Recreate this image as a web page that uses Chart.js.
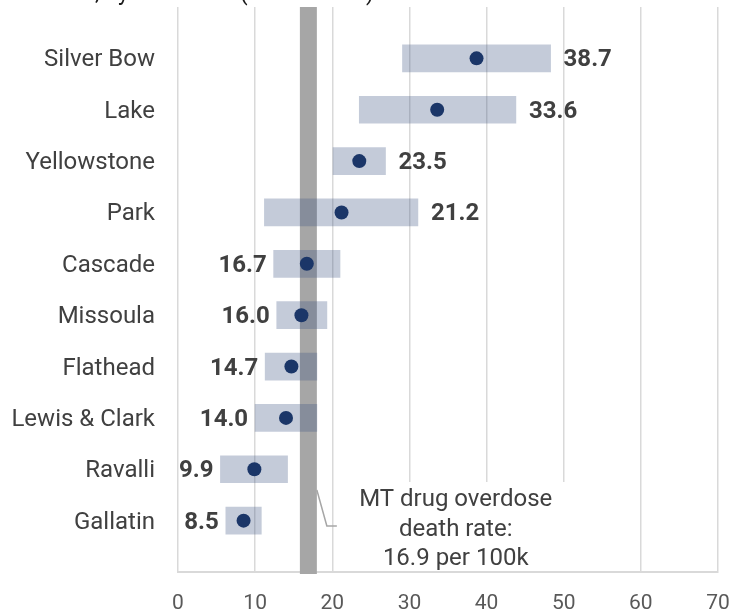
<!DOCTYPE html>
<html>
<head>
<meta charset="utf-8">
<script src="https://cdn.jsdelivr.net/npm/chart.js@4"></script>
<style>
  html, body { margin: 0; padding: 0; background: #fff; }
  #contenedor { width: 730px; height: 616px; }
</style>
</head>
<body>
<div id="contenedor"><canvas id="graficoCondados"></canvas></div>
<script>
// Datos por condado (tasa por 100k y su intervalo)
const condados = ['Silver Bow', 'Lake', 'Yellowstone', 'Park', 'Cascade', 'Missoula', 'Flathead', 'Lewis & Clark', 'Ravalli', 'Gallatin'];
const tasas = [38.7, 33.6, 23.5, 21.2, 16.7, 16.0, 14.7, 14.0, 9.9, 8.5];
const limiteInferior = [29.1, 23.5, 20.1, 11.2, 12.4, 12.8, 11.3, 10.0, 5.5, 6.2];
const limiteSuperior = [48.3, 43.8, 26.9, 31.1, 21.0, 19.3, 18.0, 18.0, 14.2, 10.8];

// Tasa estatal y su banda
const tasaEstatal = 16.9;
const bandaEstatal = [15.8, 18.0];
const notaEstatal = ['MT drug overdose', 'death rate:', '16.9 per 100k'];

// Eje X
const ticksX = [0, 10, 20, 30, 40, 50, 60, 70];
const tituloCortado = 'Drug overdose death rates, by residence (2018\u20132022)';

const fuente = 'Roboto';
const grisTexto = '#404040';

// Etiquetas vacías arriba y abajo para dejar espacio entre filas
const etiquetas = ['', ...condados, ''];
const rangos = [null, ...condados.map((c, i) => [limiteInferior[i], limiteSuperior[i]]), null];
const puntos = [null, ...tasas, null];

// Banda gris de la tasa estatal (debajo de las barras)
const pluginBanda = {
  id: 'bandaEstatal',
  beforeDatasetsDraw(chart) {
    const { ctx, chartArea, scales } = chart;
    const x1 = scales.x.getPixelForValue(bandaEstatal[0]);
    const x2 = scales.x.getPixelForValue(bandaEstatal[1]);
    ctx.save();
    ctx.fillStyle = '#a6a6a6';
    ctx.fillRect(x1, chartArea.top, x2 - x1, chartArea.bottom - chartArea.top + 2);
    ctx.restore();
  }
};

// Valores en negrita junto a cada barra
const pluginValores = {
  id: 'valores',
  afterDatasetsDraw(chart) {
    const { ctx, scales } = chart;
    ctx.save();
    ctx.font = 'bold 24px ' + fuente;
    ctx.fillStyle = grisTexto;
    ctx.textBaseline = 'middle';
    tasas.forEach((t, i) => {
      const y = scales.y.getPixelForValue(i + 1);
      if (t > tasaEstatal) {
        ctx.textAlign = 'left';
        ctx.fillText(t.toFixed(1), scales.x.getPixelForValue(limiteSuperior[i]) + 13, y + 2);
      } else {
        ctx.textAlign = 'right';
        ctx.fillText(t.toFixed(1), scales.x.getPixelForValue(limiteInferior[i]) - 7, y + 2);
      }
    });
    ctx.restore();
  }
};

// Nota de la tasa estatal con su línea guía, y el título cortado arriba
const pluginNota = {
  id: 'nota',
  afterDraw(chart) {
    const { ctx, chartArea, scales } = chart;
    const xBanda = scales.x.getPixelForValue(bandaEstatal[1]);
    const xNota = scales.x.getPixelForValue(36);
    ctx.save();
    ctx.fillStyle = '#fff';
    ctx.fillRect(xBanda + 20, chartArea.bottom - 90, 238, 89);

    ctx.strokeStyle = '#a6a6a6';
    ctx.lineWidth = 1.5;
    ctx.beginPath();
    ctx.moveTo(xBanda, chartArea.bottom - 82);
    ctx.lineTo(xBanda + 10, chartArea.bottom - 46);
    ctx.lineTo(xBanda + 20, chartArea.bottom - 46);
    ctx.stroke();

    ctx.font = '24px ' + fuente;
    ctx.fillStyle = grisTexto;
    ctx.textAlign = 'center';
    ctx.textBaseline = 'middle';
    notaEstatal.forEach((linea, k) => {
      ctx.fillText(linea, xNota, chartArea.bottom - 72 + k * 29.5);
    });

    // título: solo asoman los trazos inferiores
    ctx.font = '23px ' + fuente;
    ctx.fillStyle = '#1a1a1a';
    ctx.textAlign = 'left';
    ctx.textBaseline = 'alphabetic';
    const prefijo = tituloCortado.slice(0, tituloCortado.indexOf(','));
    ctx.fillText(tituloCortado, 95 - ctx.measureText(prefijo).width, 0);
    ctx.restore();
  }
};

const ctx = document.getElementById('graficoCondados').getContext('2d');
const grafico = new Chart(ctx, {
  type: 'bar',
  data: {
    labels: etiquetas,
    datasets: [
      {
        type: 'line',
        label: 'Tasa',
        data: puntos,
        showLine: false,
        pointRadius: 7,
        pointHoverRadius: 7,
        pointBackgroundColor: '#1b3668',
        pointBorderColor: '#1b3668',
        pointBorderWidth: 0,
        order: 1
      },
      {
        label: 'Intervalo',
        data: rangos,
        backgroundColor: 'rgba(60, 82, 128, 0.3)',
        borderWidth: 0,
        barThickness: 27,
        borderSkipped: false,
        order: 2
      }
    ]
  },
  options: {
    indexAxis: 'y',
    responsive: true,
    maintainAspectRatio: false,
    animation: false,
    layout: { padding: { top: 7, right: 12, left: 0, bottom: 0 } },
    plugins: {
      legend: { display: false },
      tooltip: { enabled: false },
      title: { display: false }
    },
    scales: {
      x: {
        type: 'linear',
        min: ticksX[0],
        max: ticksX[ticksX.length - 1],
        afterBuildTicks: (escala) => { escala.ticks = ticksX.map(v => ({ value: v })); },
        afterFit: (escala) => {
          escala.height = 44;
          escala.paddingLeft = 0;
          escala.paddingRight = 0;
        },
        grid: { color: '#d9d9d9', lineWidth: 1.5, drawTicks: false },
        border: { color: '#d9d9d9', width: 2 },
        ticks: { color: '#595959', font: { family: fuente, size: 21 }, padding: 19 }
      },
      y: {
        type: 'category',
        offset: false,
        afterFit: (escala) => {
          escala.width = 178;
          escala.paddingTop = 0;
          escala.paddingBottom = 0;
        },
        grid: { display: false, drawTicks: false },
        border: { display: false },
        ticks: { color: grisTexto, font: { family: fuente, size: 24 }, padding: 23, labelOffset: 2, autoSkip: false }
      }
    }
  },
  plugins: [pluginBanda, pluginValores, pluginNota]
});
</script>
</body>
</html>
